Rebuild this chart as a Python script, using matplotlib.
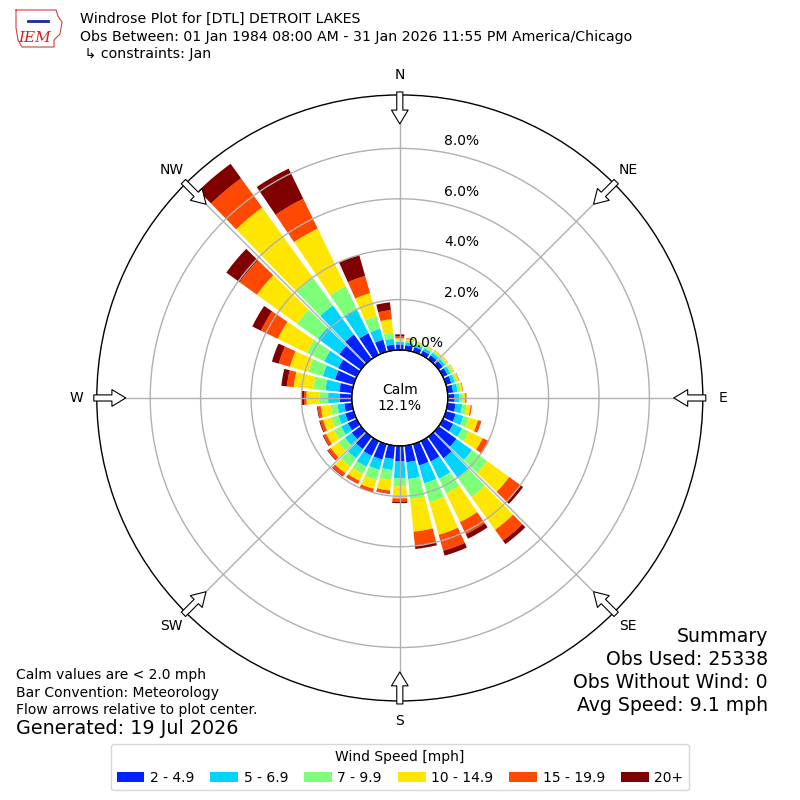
import numpy as np
import matplotlib
matplotlib.use('Agg')
import matplotlib.pyplot as plt
from matplotlib.patches import Patch
from matplotlib.transforms import offset_copy

# ==============================
# DATA (percent of observations)
# ==============================
directions = np.arange(0, 360, 10)
calm_pct = 12.1
speed_labels = ['2 - 4.9', '5 - 6.9', '7 - 9.9', '10 - 14.9', '15 - 19.9', '20+']
speed_colors = ['#0022ff', '#00d4ff', '#7dff7a', '#ffe600', '#ff4800', '#800000']

spd_2_5 = [0.22, 0.20, 0.19, 0.18, 0.19, 0.20, 0.20, 0.22, 0.22, 0.27, 0.32, 0.40,
           0.45, 0.87, 1.05, 0.90, 0.88, 0.66, 0.62, 0.53, 0.64, 0.65, 0.60, 0.45,
           0.39, 0.35, 0.31, 0.48, 0.51, 0.77, 0.81, 1.06, 1.21, 0.95, 0.50, 0.23]
spd_5_7 = [0.11, 0.12, 0.11, 0.12, 0.12, 0.12, 0.13, 0.14, 0.18, 0.19, 0.26, 0.32,
           0.40, 0.76, 0.95, 0.76, 0.74, 0.67, 0.66, 0.44, 0.42, 0.48, 0.45, 0.33,
           0.30, 0.28, 0.27, 0.46, 0.55, 0.50, 0.62, 1.04, 1.42, 1.07, 0.45, 0.23]
spd_7_10 = [0.05, 0.06, 0.06, 0.06, 0.07, 0.08, 0.09, 0.09, 0.12, 0.14, 0.17, 0.23,
            0.30, 0.74, 0.95, 0.65, 0.78, 0.80, 0.33, 0.40, 0.42, 0.32, 0.40, 0.32,
            0.31, 0.28, 0.27, 0.33, 0.49, 0.59, 0.77, 1.03, 1.34, 1.00, 0.51, 0.24]
spd_10_15 = [0.08, 0.07, 0.06, 0.06, 0.06, 0.06, 0.07, 0.08, 0.08, 0.09, 0.17, 0.37,
             0.60, 1.08, 1.60, 1.26, 1.34, 1.30, 0.47, 0.42, 0.37, 0.30, 0.33, 0.38,
             0.35, 0.35, 0.40, 0.53, 0.78, 0.77, 1.28, 1.96, 3.45, 2.55, 0.96, 0.54]
spd_15_20 = [0.08, 0.02, 0.01, 0.01, 0.01, 0.01, 0.01, 0.02, 0.02, 0.05, 0.05, 0.13,
             0.23, 0.55, 0.53, 0.53, 0.66, 0.54, 0.13, 0.11, 0.12, 0.12, 0.14, 0.14,
             0.12, 0.12, 0.12, 0.10, 0.27, 0.46, 0.74, 0.85, 1.43, 1.31, 0.71, 0.36]
spd_20p = [0.08, 0.01, 0.00, 0.00, 0.00, 0.00, 0.00, 0.00, 0.00, 0.00, 0.00, 0.01,
           0.04, 0.13, 0.17, 0.20, 0.20, 0.15, 0.06, 0.02, 0.03, 0.02, 0.03, 0.03,
           0.03, 0.04, 0.03, 0.10, 0.22, 0.28, 0.38, 0.65, 0.71, 1.33, 0.87, 0.31]

bins = [spd_2_5, spd_5_7, spd_7_10, spd_10_15, spd_15_20, spd_20p]

ring_values = [0, 2, 4, 6, 8]
compass = ['N', 'NE', 'E', 'SE', 'S', 'SW', 'W', 'NW']

# ==============================
# FIGURE
# ==============================
fig = plt.figure(figsize=(8, 8), dpi=100)
ax = fig.add_axes([0.121, 0.1238, 0.7575, 0.7575], projection='polar')
ax.set_theta_zero_location('N')
ax.set_theta_direction(-1)

rmax = 10.12
rorig = -1.905
ax.set_rorigin(rorig)
ax.set_ylim(0, rmax)

theta = np.radians(directions)
width = np.radians(8.3)
bottom = np.zeros(len(directions))
for vals, col in zip(bins, speed_colors):
    vals = np.array(vals)
    ax.bar(theta, vals, width=width, bottom=bottom, color=col, linewidth=0, zorder=1)
    bottom = bottom + vals

ax.set_xticks(np.radians(np.arange(0, 360, 45)))
ax.set_xticklabels([])
ax.set_yticks(ring_values)
ax.set_yticklabels([])
ax.grid(True, color='#b0b0b0', linewidth=1)
ax.spines['polar'].set_linewidth(1)

# calm circle edge
circ = np.linspace(0, 2 * np.pi, 361)
ax.plot(circ, np.zeros_like(circ), color='k', lw=1, zorder=3, clip_on=False)
ax.text(0.5, 0.5, 'Calm\n%.1f%%' % calm_pct, transform=ax.transAxes,
        ha='center', va='center', fontsize=10)

# ring labels
for v in ring_values:
    dx = 26 if v == 0 else 62
    tr = offset_copy(ax.transData, fig=fig, x=dx, y=7, units='dots')
    ax.text(0, v, '%.1f%%' % v, transform=tr, ha='center', va='center', fontsize=10)


def px_to_r(px):
    return px / 303.0 * (rmax - rorig) + rorig


# compass labels and flow arrows
for i, name in enumerate(compass):
    ang = np.radians(i * 45)
    ax.text(ang, px_to_r(323), name, ha='center', va='center', fontsize=10, clip_on=False)
    ax.annotate('', xy=(ang, px_to_r(274)), xytext=(ang, px_to_r(306)),
                arrowprops=dict(arrowstyle='simple,head_width=0.6,head_length=0.5,tail_width=0.22',
                                fc='white', ec='k', lw=0.8, shrinkA=0, shrinkB=0,
                                mutation_scale=20),
                annotation_clip=False, zorder=5)

# ==============================
# TEXTS
# ==============================
fig.text(0.1, 1 - 19 / 800, 'Windrose Plot for [DTL] DETROIT LAKES', fontsize=10.15, va='center')
fig.text(0.1, 1 - 37 / 800, 'Obs Between: 01 Jan 1984 08:00 AM - 31 Jan 2026 11:55 PM America/Chicago',
         fontsize=10.15, va='center')
fig.text(0.1, 1 - 54 / 800, ' \u21b3 constraints: Jan', fontsize=10.15, va='center')

# logo approximation
logo_x = [16, 56, 58, 62, 60, 54, 54, 22, 18, 16, 16]
logo_y = [10, 10, 16, 22, 34, 40, 47, 47, 40, 28, 10]
fig.add_artist(plt.Line2D([x / 800 for x in logo_x], [1 - y / 800 for y in logo_y],
                          color='#d04040', lw=0.8))
fig.add_artist(plt.Line2D([28 / 800, 48 / 800], [1 - 21 / 800, 1 - 21 / 800],
                          color='#1a2aa0', lw=2))
fig.text(35 / 800, 1 - 38 / 800, 'IEM', color='#d02020', fontsize=11, style='italic',
         family='DejaVu Serif', ha='center', va='center')

fig.text(16 / 800, 1 - 675 / 800, 'Calm values are < 2.0 mph', fontsize=10, va='center')
fig.text(16 / 800, 1 - 693 / 800, 'Bar Convention: Meteorology', fontsize=10, va='center')
fig.text(16 / 800, 1 - 710 / 800, 'Flow arrows relative to plot center.', fontsize=10, va='center')
fig.text(16 / 800, 1 - 729 / 800, 'Generated: 19 Jul 2026', fontsize=13.8, va='center')

summary = ['Summary', 'Obs Used: 25338', 'Obs Without Wind: 0', 'Avg Speed: 9.1 mph']
for k, line in enumerate(summary):
    fig.text(768 / 800, 1 - (636 + k * 23.3) / 800, line, fontsize=13.6, ha='right', va='center')

# ==============================
# LEGEND
# ==============================
handles = [Patch(facecolor=c, edgecolor='none') for c in speed_colors]
fig.legend(handles, speed_labels, loc='lower center', bbox_to_anchor=(0.5, 0.012),
           ncol=6, fontsize=10, title='Wind Speed [mph]', title_fontsize=10,
           columnspacing=1.15, handletextpad=0.4, borderaxespad=0)

fig.savefig('out.png', dpi=100)
